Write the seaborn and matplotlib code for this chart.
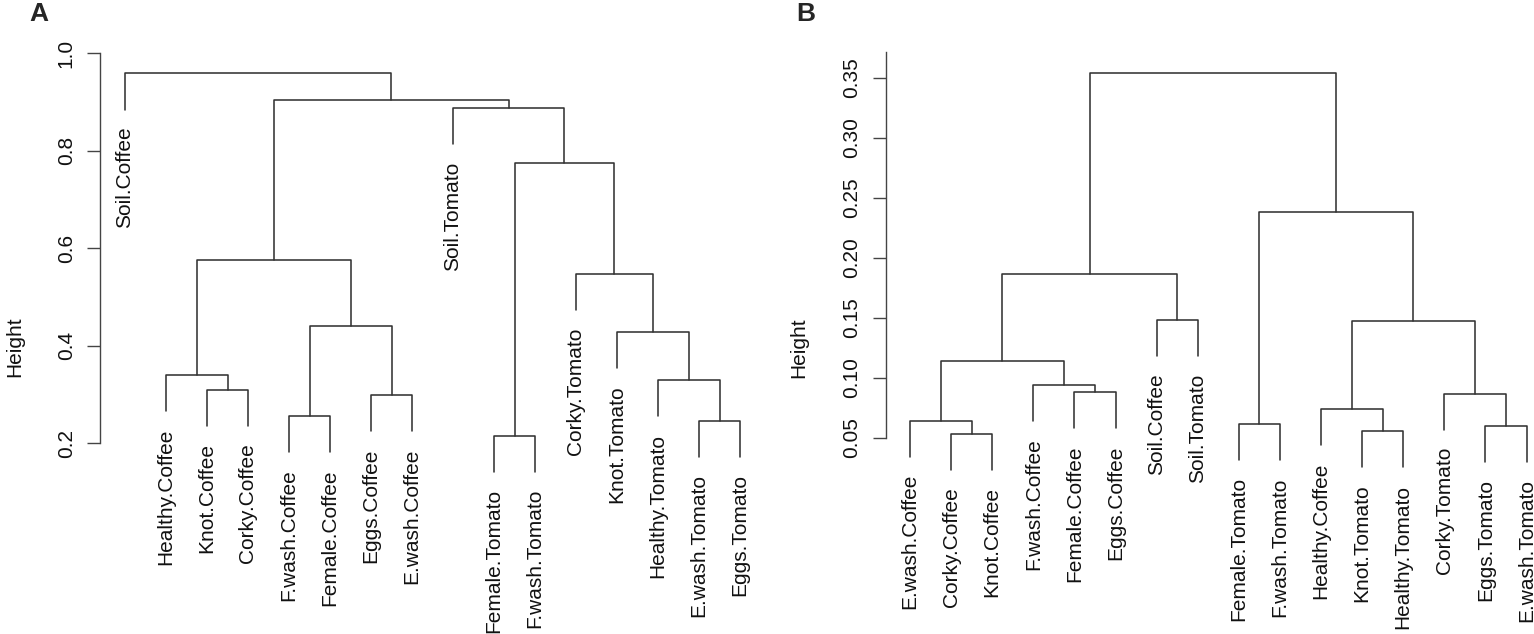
import matplotlib
matplotlib.use("Agg")
import matplotlib.pyplot as plt
import pandas as pd
import seaborn as sns

# Panel A: leaves in plotted order, R-style merge table
# (negative = leaf number, positive = earlier merge row), merge heights
labels_a = ["Soil.Coffee", "Healthy.Coffee", "Knot.Coffee", "Corky.Coffee",
            "F.wash.Coffee", "Female.Coffee", "Eggs.Coffee", "E.wash.Coffee",
            "Soil.Tomato", "Female.Tomato", "F.wash.Tomato", "Corky.Tomato",
            "Knot.Tomato", "Healthy.Tomato", "E.wash.Tomato", "Eggs.Tomato"]
merge_a = [(-10, -11), (-15, -16), (-5, -6), (-7, -8), (-3, -4),
           (-14, 2), (-2, 5), (-13, 6), (3, 4), (-12, 8),
           (7, 9), (1, 10), (-9, 12), (11, 13), (-1, 14)]
height_a = [0.216, 0.246, 0.256, 0.300, 0.310,
            0.330, 0.341, 0.429, 0.441, 0.547,
            0.575, 0.776, 0.888, 0.905, 0.959]
ticks_a = [0.2, 0.4, 0.6, 0.8, 1.0]
ticklabels_a = ["0.2", "0.4", "0.6", "0.8", "1.0"]

# Panel B
labels_b = ["E.wash.Coffee", "Corky.Coffee", "Knot.Coffee", "F.wash.Coffee",
            "Female.Coffee", "Eggs.Coffee", "Soil.Coffee", "Soil.Tomato",
            "Female.Tomato", "F.wash.Tomato", "Healthy.Coffee", "Knot.Tomato",
            "Healthy.Tomato", "Corky.Tomato", "Eggs.Tomato", "E.wash.Tomato"]
merge_b = [(-2, -3), (-12, -13), (-15, -16), (-9, -10), (-1, 1),
           (-11, 2), (-14, 3), (-5, -6), (-4, 8), (5, 9),
           (6, 7), (-7, -8), (10, 12), (4, 11), (13, 14)]
height_b = [0.0531, 0.0554, 0.0598, 0.0615, 0.0642,
            0.0738, 0.0868, 0.0880, 0.0938, 0.1142,
            0.1475, 0.1478, 0.1864, 0.2378, 0.3537]
ticks_b = [0.05, 0.10, 0.15, 0.20, 0.25, 0.30, 0.35]
ticklabels_b = ["0.05", "0.10", "0.15", "0.20", "0.25", "0.30", "0.35"]

LINE = "#333333"
FS = 15


def dendro_segments(merge, height):
    # hclust-style: leaves hang 10% of the height range below their merge
    hang = 0.1 * (max(height) - min(height))
    node_x = {}
    rows = []
    leaf_ends = {}
    for k, (a, b) in enumerate(merge, start=1):
        h = height[k - 1]
        pts = []
        for c in (a, b):
            if c < 0:
                cx, cy = -c, h - hang
                leaf_ends[-c] = cy
            else:
                cx, cy = node_x[c], height[c - 1]
            pts.append((cx, cy))
        node_x[k] = (pts[0][0] + pts[1][0]) / 2
        path = [pts[0], (pts[0][0], h), (pts[1][0], h), pts[1]]
        for i, (x, y) in enumerate(path):
            rows.append({"seg": k, "order": i, "x": x, "y": y})
    return pd.DataFrame(rows), leaf_ends


def draw_panel(ax, labels, merge, height, ticks, ticklabels):
    seg, leaf_ends = dendro_segments(merge, height)
    sns.lineplot(data=seg, x="x", y="y", units="seg", estimator=None,
                 sort=False, color=LINE, lw=1.15, ax=ax, legend=False)
    for ln in ax.lines:
        ln.set_clip_on(False)
    for i, lab in enumerate(labels, start=1):
        ax.annotate(lab, (i, leaf_ends[i]), xytext=(0, -12.5),
                    textcoords="offset points", rotation=90,
                    ha="center", va="top", fontsize=FS, color="#111111",
                    annotation_clip=False)
    for s in ["top", "right", "bottom"]:
        ax.spines[s].set_visible(False)
    ax.spines["left"].set_color("#444444")
    ax.spines["left"].set_linewidth(1.0)
    ax.set_xticks([])
    ax.set_yticks(ticks)
    ax.set_yticklabels(ticklabels, rotation=90, va="center")
    ax.tick_params(axis="y", left=True, direction="out", length=9.4,
                   width=1.0, color="#444444", pad=8, labelsize=FS,
                   labelcolor="#111111")
    ax.set_xlabel("")
    ax.set_ylabel("Height", fontsize=FS, color="#111111", va="center")


sns.set_theme(style="white")
plt.rcParams["font.family"] = ["Liberation Sans", "DejaVu Sans"]

W, H = 1534, 634
fig = plt.figure(figsize=(W / 100, H / 100), dpi=100)

# panel A axes: axis line at x=100 px, 0.2..1.0 spans y 443..53 px
ax_a = fig.add_axes([100 / W, 1 - 443.3 / H, 660 / W, 390 / H])
draw_panel(ax_a, labels_a, merge_a, height_a, ticks_a, ticklabels_a)
ax_a.set_xlim(1 - 25 / 41, 1 - 25 / 41 + 660 / 41)
ax_a.set_ylim(0.2, 1.0)
ax_a.yaxis.set_label_coords(-85 / 660, (443.3 - 347) / 390)

# panel B axes: axis line at x=886 px, 0.05 at y=438 px, 1200 px per unit
bw = W - 885.7
ax_b = fig.add_axes([885.7 / W, 1 - 437.7 / H, bw / W, 386 / H])
draw_panel(ax_b, labels_b, merge_b, height_b, ticks_b, ticklabels_b)
ax_b.set_xlim(1 - 24.3 / 41.1, 1 - 24.3 / 41.1 + bw / 41.1)
ax_b.set_ylim(0.05, 0.05 + 386 / 1200)
ax_b.yaxis.set_label_coords(-87 / bw, (437.7 - 348) / 386)

fig.text(38.5 / W, 1 - 21 / H, "A", fontsize=19, fontweight="bold",
         ha="center", va="baseline")
fig.text(806 / W, 1 - 21 / H, "B", fontsize=19, fontweight="bold",
         ha="center", va="baseline")

fig.savefig("out.png", dpi=100)
